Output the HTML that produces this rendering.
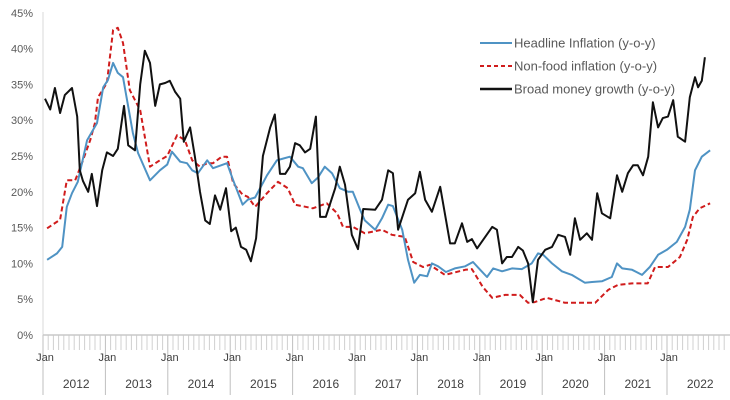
<!DOCTYPE html>
<html><head><meta charset="utf-8"><style>
body{margin:0;background:#fff;}
svg{display:block;font-family:"Liberation Sans",sans-serif;}
</style></head><body>
<svg id="chart" width="730" height="400"></svg>
<script>
const yTicks=[0,5,10,15,20,25,30,35,40,45];
const years=["2012","2013","2014","2015","2016","2017","2018","2019","2020","2021","2022"];
const legendLabels=["Headline Inflation (y-o-y)","Non-food inflation (y-o-y)","Broad money growth (y-o-y)"];
const moneyMonths=[0,1,1.9,2.9,3.8,5.2,6.2,6.7,7.3,8.3,9,10,11,11.9,13.1,14,15.2,16,17.3,18.3,19.2,20.2,21.2,22.1,23.1,24,25,26,26.7,27.9,28.8,29.8,30.8,31.7,32.7,33.7,34.8,35.8,36.7,37.7,38.7,39.6,40.6,41.9,43.3,44.2,45.2,46.2,47.1,48.1,49,50,51,52.1,52.9,54,55.8,56.7,57.7,59,60.2,61.2,63.5,64.8,66,66.9,67.9,69.8,71.2,72.1,73.1,74.4,76,77.9,78.8,80.2,81.2,82.1,83.1,86,86.9,87.9,88.8,89.8,91,91.9,92.9,93.8,94.8,96.2,97.5,98.7,100,101,101.9,102.9,104.2,105.2,106.2,107.1,108.7,110,111,112.1,113.1,114,115,116,116.9,117.9,118.8,119.8,120.8,121.7,123.1,124,125,125.6,126.3,126.9];
const moneyValues=[33,31.5,34.5,31,33.5,34.5,30.5,23,21.5,20,22.5,18,23,25.5,25,26,32,26.5,25.8,35,39.7,38,32,35,35.2,35.5,34,33,27,29,25,20,16,15.5,19.5,17.5,20.5,14.5,15,12.3,11.9,10.3,13.5,25,29,30.8,22.5,22.5,23.5,26.8,26.5,25.5,26,30.5,16.5,16.5,20.5,23.5,21,14,12,17.6,17.5,18.9,23,22.6,14.7,18.9,19.8,22.8,18.9,17.2,20.7,12.8,12.8,15.6,13,13.4,12.1,15.1,14.7,10,10.9,10.9,12.3,11.8,10,4.6,10.5,11.9,12.3,14,13.7,11.2,16.3,13.3,14.2,13.3,19.8,17,16.3,22.3,20,22.6,23.7,23.7,22.3,24.9,32.5,29,30.3,30.5,32.8,27.7,27,33.2,36,34.6,35.5,38.8];
const headMonths=[0.4,2.3,3.3,4.2,5.2,6.3,8.1,10,11.2,12.1,13.1,14,15,16.9,17.9,20.2,22.1,23.5,24.4,26,27.3,28.3,29.4,31.2,32.3,35,36.2,38,39,40.4,42.7,44.6,45.6,47.1,48.7,49.6,51.3,52.5,53.8,55.2,56.7,58.3,59.2,60.6,61.5,63.5,64.8,66,66.9,68.7,69.8,71,72.1,73.5,74.4,75.6,77.1,78.8,80.8,82.3,83.7,85,86.2,87.9,89.8,91.7,93.6,94.8,95.8,97.5,99.4,101.3,103.8,105.2,107.1,109,110,111,112.9,114.8,116.3,117.9,119.6,121.5,123.1,124,125,126.3,127.9];
const headValues=[10.5,11.4,12.3,17.9,19.8,21.4,27.2,29.6,34.6,35.6,38,36.6,36,28.2,25.4,21.6,23,23.8,25.6,24.2,24,23,22.6,24.4,23.3,24,21.6,18.2,18.9,19.2,22.3,24.4,24.6,24.9,23.5,23.3,21.2,22,23.5,22.6,20.5,20,20,17.5,16,14.7,16.3,18.2,18,14.7,10.5,7.3,8.4,8.2,10,9.6,8.8,9.3,9.6,10.2,9.1,8.1,9.3,8.9,9.3,9.2,10,11.4,11.2,10,8.9,8.4,7.3,7.4,7.5,8.1,10,9.3,9.1,8.4,9.5,11.2,11.9,13,15.1,17.5,23,24.9,25.8];
const nfMonths=[0.4,2.9,4.2,5.8,7.1,8.7,9.6,10.2,11.9,13.1,14,15,16.3,18.3,20.2,22.1,23.5,25.4,26.9,28.3,29.8,31.2,32.3,34,35,36.2,38,39,40.4,42.7,44.8,46.7,48.1,51.5,54.2,56.2,57.3,59.2,61.5,64.8,66.7,69.2,70.8,72.7,74,76.9,80.8,82.1,84.2,86,88.5,91.3,92.9,94.2,96.5,100,103.3,105.8,108.3,110.2,112.9,115.9,117.3,119.8,122.1,123.5,124.6,125.9,127.9];
const nfValues=[14.9,16.1,21.6,21.6,24,27.2,29.6,33.2,35.2,42.6,42.9,40.8,34.2,31.4,23.5,24.4,25,27.9,27.2,24.4,23.5,24,24,24.9,24.9,21.2,19.6,19.3,17.9,19.8,21.4,20.5,18.2,17.7,18.4,17,15.1,15.1,14.2,14.7,14,13.7,10.2,9.5,9.8,8.4,9.1,9.2,6.7,5.2,5.6,5.6,4.5,4.6,5.2,4.5,4.5,4.5,6.3,7,7.2,7.2,9.5,9.5,10.9,13.3,16.5,17.7,18.4];

const NS="http://www.w3.org/2000/svg";
const svg=document.getElementById('chart');
const x0=45,pxPerMonth=5.2,yBase=335,pxPerPct=7.16;
const xS=m=>x0+m*pxPerMonth;
const yS=v=>yBase-v*pxPerPct;
function mk(tag,attrs,parent){const e=document.createElementNS(NS,tag);for(const k in attrs)e.setAttribute(k,attrs[k]);(parent||svg).appendChild(e);return e;}

// axes
const yAxis=mk('line',{x1:43,y1:12,x2:43,y2:yBase,stroke:'#d9d9d9','stroke-width':1});


yTicks.forEach(t=>{
  const tx=mk('text',{x:33,y:yS(t)+4,'text-anchor':'end','font-size':11,fill:'#595959'});
  tx.textContent=t+'%';
  
  
});
// monthly ticks
for(let m=0;m<=131;m++){
  const isJan=m%12===0;
  const tk=mk('line',{x1:xS(m)-2,y1:yBase,x2:xS(m)-2,y2:isJan?395:350,stroke:isJan?'#bfbfbf':'#d0d0d0','stroke-width':1});
  
  
}
const xAxis=mk('line',{x1:43,y1:yBase,x2:730,y2:yBase,stroke:'#c8c8c8','stroke-width':1.5});


years.forEach((yr,i)=>{
  const j=mk('text',{x:xS(i*12),y:361,'text-anchor':'middle','font-size':11,fill:'#404040'});
  j.textContent='Jan';
  
  
  const t=mk('text',{x:xS(i*12+6),y:388,'text-anchor':'middle','font-size':12,fill:'#404040'});
  t.textContent=yr;
  
  
});

function series(months,vals,attrs,name){
  const d=months.map((m,i)=>(i?'L':'M')+xS(m).toFixed(1)+' '+yS(vals[i]).toFixed(1)).join(' ');
  const p=mk('path',Object.assign({d:d,fill:'none','stroke-linejoin':'round'},attrs));
  
  
}
series(nfMonths,nfValues,{stroke:'#d01c1c','stroke-width':2,'stroke-dasharray':'5 3'},'nonfood-inflation-line');
series(headMonths,headValues,{stroke:'#4f93c4','stroke-width':2},'headline-inflation-line');
series(moneyMonths,moneyValues,{stroke:'#111','stroke-width':2},'broad-money-line');

// legend
const legStyles=[{stroke:'#4f93c4','stroke-width':2},{stroke:'#d01c1c','stroke-width':2,'stroke-dasharray':'4 3'},{stroke:'#111','stroke-width':2.5}];
legendLabels.forEach((lab,i)=>{
  const y=43+i*23;
  const g=mk('g',{});
  
  
  mk('line',Object.assign({x1:480,y1:y,x2:512,y2:y},legStyles[i]),g);
  const t=mk('text',{x:514,y:y+4.5,'font-size':13,fill:'#595959'},g);
  t.textContent=lab;
});
</script>
</body></html>
